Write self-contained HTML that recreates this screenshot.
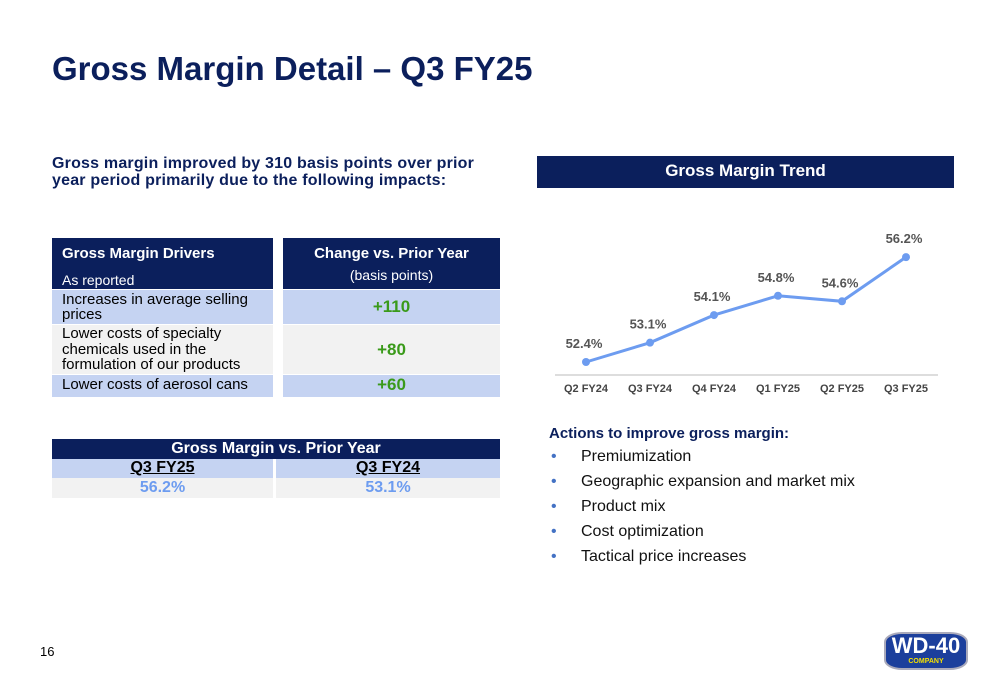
<!DOCTYPE html>
<html><head><meta charset="utf-8"><style>
*{margin:0;padding:0;box-sizing:border-box}
body{width:1000px;height:685px;background:#fff;font-family:"Liberation Sans",Arial,sans-serif;position:relative;overflow:hidden}
.a{position:absolute}
.navy{background:#0b1f5c;color:#fff}
.lb{background:#c5d3f2}
.gr{background:#f2f2f2}
.g{color:#3a9a1a;font-weight:bold;font-size:17px;text-align:center}
.bul li{list-style:none;position:absolute;left:0;font-size:16px;color:#111;white-space:nowrap}
.bul li:before{content:"•";color:#4472c4;position:absolute;left:-30px}
</style></head><body>
<div class="a" style="left:52px;top:50px;font-size:33px;font-weight:bold;color:#0b1f5c;white-space:nowrap">Gross Margin Detail – Q3 FY25</div>
<div class="a" style="left:52px;top:155px;width:480px;font-size:16px;letter-spacing:0.2px;font-weight:bold;color:#0b1f5c;line-height:17px;white-space:nowrap">Gross margin improved by 310 basis points over prior<br>year period primarily due to the following impacts:</div>

<div class="a navy" style="left:52px;top:238px;width:221px;height:51px"><div style="position:absolute;left:10px;top:7px;font-size:15px;font-weight:bold">Gross Margin Drivers</div><div style="position:absolute;left:10px;top:34px;font-size:14px">As reported</div></div>
<div class="a navy" style="left:283px;top:238px;width:217px;height:51px;text-align:center"><div style="margin-top:7px;font-size:15px;font-weight:bold">Change vs. Prior Year</div><div style="margin-top:5px;font-size:14px">(basis points)</div></div>
<div class="a lb" style="left:52px;top:290px;width:221px;height:34px;padding:2px 10px;font-size:15px;line-height:15px">Increases in average selling prices</div>
<div class="a lb g" style="left:283px;top:290px;width:217px;height:34px;line-height:34px">+110</div>
<div class="a gr" style="left:52px;top:325px;width:221px;height:49px;padding:0 10px;font-size:15px;line-height:15.5px;padding-top:1px">Lower costs of specialty chemicals used in the formulation of our products</div>
<div class="a gr g" style="left:283px;top:325px;width:217px;height:49px;line-height:49px">+80</div>
<div class="a lb" style="left:52px;top:375px;width:221px;height:22px;padding:0 10px;font-size:15px;line-height:20px">Lower costs of aerosol cans</div>
<div class="a lb g" style="left:283px;top:375px;width:217px;height:22px;line-height:20px">+60</div>

<div class="a navy" style="left:52px;top:439px;width:448px;height:20px;text-align:center;font-size:16px;font-weight:bold;line-height:20px">Gross Margin vs. Prior Year</div>
<div class="a lb" style="left:52px;top:459px;width:221px;height:19px;text-align:center;font-weight:bold;font-size:16px;text-decoration:underline;line-height:18px">Q3 FY25</div>
<div class="a lb" style="left:276px;top:459px;width:224px;height:19px;text-align:center;font-weight:bold;font-size:16px;text-decoration:underline;line-height:18px">Q3 FY24</div>
<div class="a gr" style="left:52px;top:478px;width:221px;height:20px;text-align:center;font-weight:bold;font-size:16px;color:#6d9cf0;line-height:20px">56.2%</div>
<div class="a gr" style="left:276px;top:478px;width:224px;height:20px;text-align:center;font-weight:bold;font-size:16px;color:#6d9cf0;line-height:20px">53.1%</div>

<div class="a navy" style="left:537px;top:156px;width:417px;height:32px;text-align:center;font-size:17px;font-weight:bold;line-height:30px">Gross Margin Trend</div>
<svg class="a" id="chart" style="left:0;top:0" width="1000" height="685"></svg>

<div class="a" style="left:549px;top:425px;font-size:15px;font-weight:bold;color:#0b1f5c">Actions to improve gross margin:</div>
<ul class="a bul" style="left:581px;top:448px;width:400px">
<li style="top:0">Premiumization</li>
<li style="top:25px">Geographic expansion and market mix</li>
<li style="top:50px">Product mix</li>
<li style="top:75px">Cost optimization</li>
<li style="top:100px">Tactical price increases</li>
</ul>
<div class="a" style="left:40px;top:644px;font-size:13px">16</div>
<div class="a" style="left:884px;top:632px;width:84px;height:38px;background:#1c3f9c;border-radius:18px/10px;border:2px solid #aab;text-align:center;color:#fff;font-weight:bold;font-size:22px;line-height:24px">WD-40<div style="color:#f5e000;font-size:7px;line-height:8px">COMPANY</div></div>
<script>
const categories=["Q2 FY24","Q3 FY24","Q4 FY24","Q1 FY25","Q2 FY25","Q3 FY25"];
const values=[52.4,53.1,54.1,54.8,54.6,56.2];
const labels=["52.4%","53.1%","54.1%","54.8%","54.6%","56.2%"];
const svg=document.getElementById('chart');const NS="http://www.w3.org/2000/svg";
const x=i=>586+i*64;const y=v=>362-(v-52.4)*27.6;
function mk(t,a){const e=document.createElementNS(NS,t);for(const k in a)e.setAttribute(k,a[k]);svg.appendChild(e);return e;}
const ax=mk('line',{x1:555,x2:938,y1:375,y2:375,stroke:'#bbb'});


const pl=mk('polyline',{points:values.map((v,i)=>x(i)+','+y(v)).join(' '),fill:'none',stroke:'#6d9cf0','stroke-width':3});


values.forEach((v,i)=>{
const c=mk('circle',{cx:x(i),cy:y(v),r:4,fill:'#6d9cf0'});


const t=mk('text',{x:x(i)-2,y:y(v)-14,'text-anchor':'middle','font-size':13,'font-weight':'bold',fill:'#555'});t.textContent=labels[i];


const k=mk('text',{x:x(i),y:392,'text-anchor':'middle','font-size':11,'font-weight':'bold',fill:'#444'});k.textContent=categories[i];


});
</script>
</body></html>
